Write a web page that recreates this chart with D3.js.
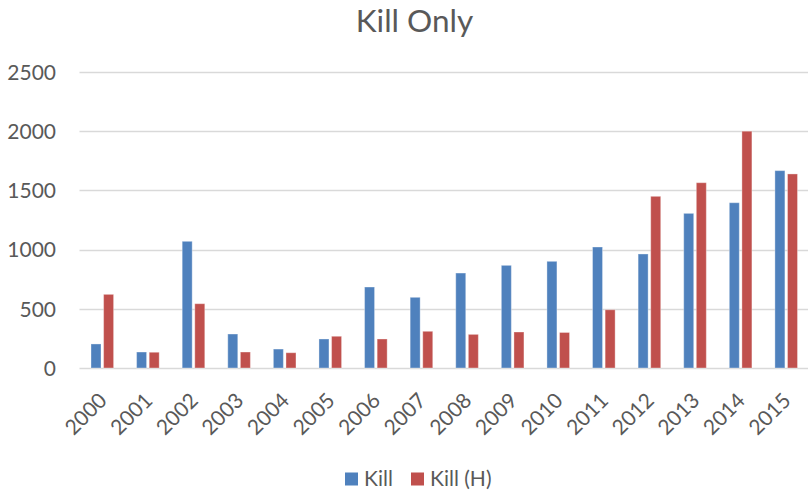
<!DOCTYPE html>
<html>
<head>
<meta charset="utf-8">
<script src="https://cdn.jsdelivr.net/npm/d3@7"></script>
<style>
  html, body { margin: 0; padding: 0; background: #fff; }
  svg { display: block; }
</style>
</head>
<body>
<svg id="chart" width="808" height="493"></svg>
<script>
const years = ["2000","2001","2002","2003","2004","2005","2006","2007","2008","2009","2010","2011","2012","2013","2014","2015"];
const kill = [203, 135, 1070, 287, 160, 245, 684, 597, 802, 867, 901, 1022, 963, 1306, 1396, 1667];
const killH = [622, 133, 543, 135, 129, 268, 245, 310, 284, 304, 300, 492, 1450, 1565, 2000, 1639];
const seriesNames = ["Kill", "Kill (H)"];
const seriesColors = ["#4F81BD", "#C0504D"];
const yTicks = [0, 500, 1000, 1500, 2000, 2500];
const title = "Kill Only";

const FONT = "Lato, 'Open Sans', sans-serif";
const TEXT = "#595959";
const svg = d3.select("#chart");
const W = 808, H = 493;
const plot = { left: 79.5, right: 809, top: 72, bottom: 368 };

const x = d3.scaleBand().domain(years).range([plot.left, plot.right]).paddingInner(0).paddingOuter(0);
const y = d3.scaleLinear().domain([0, 2500]).range([plot.bottom, plot.top]);
const barW = 10, gap = 2.6;

// gridlines
svg.append("g").selectAll("line").data(yTicks).join("line")
  .attr("x1", plot.left).attr("x2", W)
  .attr("y1", d => Math.round(y(d)) + 0.5).attr("y2", d => Math.round(y(d)) + 0.5)
  .attr("stroke", "#D9D9D9").attr("stroke-width", 1.3);

// y axis labels
const yAxis = d3.axisLeft(y).tickValues(yTicks).tickFormat(d3.format("d")).tickSize(0).tickPadding(0);
const gy = svg.append("g").attr("transform", `translate(56,0)`).call(yAxis);
gy.select(".domain").remove();
gy.selectAll("text").attr("font-family", FONT).attr("font-size", 21).attr("fill", TEXT).attr("dy", "0.35em");

// bars
const series = [kill, killH];
series.forEach((vals, si) => {
  svg.append("g").selectAll("rect").data(vals).join("rect")
    .attr("x", (d, i) => x(years[i]) + x.bandwidth() / 2 - barW - gap / 2 + si * (barW + gap))
    .attr("y", d => y(d))
    .attr("width", barW)
    .attr("height", d => y(0) - y(d))
    .attr("fill", seriesColors[si])
    .attr("stroke", "#ffffff").attr("stroke-opacity", 0.35).attr("stroke-width", 1);
});

// x axis labels
const xAxis = d3.axisBottom(x).tickSize(0).tickPadding(0);
const gx = svg.append("g").attr("transform", `translate(0,${plot.bottom})`).call(xAxis);
gx.select(".domain").remove();
gx.selectAll("text")
  .attr("font-family", FONT).attr("font-size", 21).attr("fill", TEXT)
  .attr("text-anchor", "end")
  .attr("dy", null).attr("y", null)
  .attr("transform", "translate(-6,22) rotate(-45)")
  .attr("dominant-baseline", "hanging");

// title
svg.append("text").attr("x", 414.5).attr("y", 32)
  .attr("text-anchor", "middle")
  .attr("font-family", FONT).attr("font-size", 31.5).attr("fill", TEXT)
  .text(title);

// legend
const legend = svg.append("g");
const legendX = [345, 411];
seriesNames.forEach((n, i) => {
  legend.append("rect").attr("x", legendX[i]).attr("y", 472.5).attr("width", 13).attr("height", 13)
    .attr("fill", seriesColors[i]);
  legend.append("text").attr("x", legendX[i] + 19).attr("y", 486)
    .attr("font-family", FONT).attr("font-size", 21).attr("fill", TEXT).text(n);
});
</script>
</body>
</html>
